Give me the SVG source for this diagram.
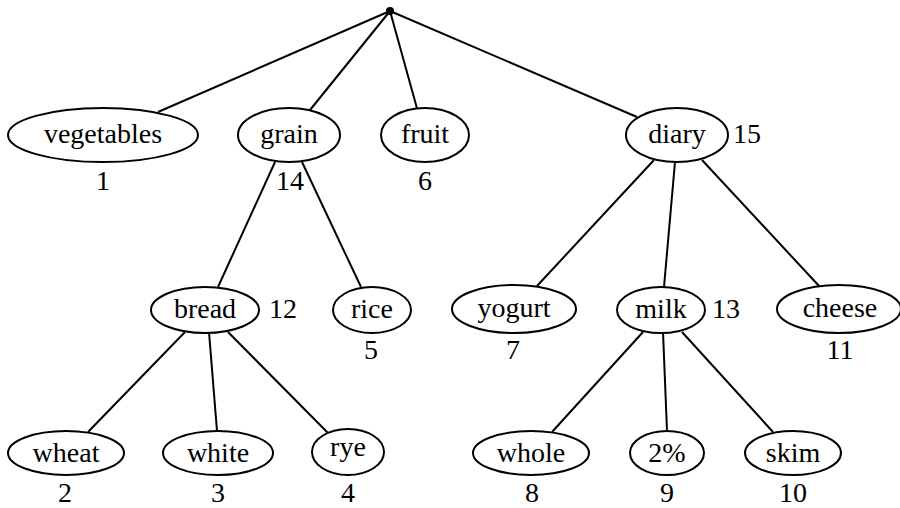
<svg xmlns="http://www.w3.org/2000/svg" width="900" height="508" viewBox="0 0 900 508">
<style>
.n ellipse{fill:#fff;stroke:#000;stroke-width:2}
text{font-family:"Liberation Serif","Times New Roman",serif;font-size:28px;fill:#000;text-anchor:middle}
.s{text-anchor:start}
#edges line{stroke:#000;stroke-width:2}
</style>
<rect width="900" height="508" fill="#fff"/>
<g id="edges">
<line x1="390" y1="11" x2="158" y2="112"/>
<line x1="390" y1="11" x2="310" y2="110"/>
<line x1="390" y1="11" x2="418" y2="112"/>
<line x1="390" y1="11" x2="637" y2="117"/>
<line x1="275" y1="162" x2="218" y2="287"/>
<line x1="302" y1="162" x2="361" y2="287"/>
<line x1="654" y1="160" x2="537" y2="286"/>
<line x1="675" y1="162" x2="664" y2="287"/>
<line x1="702" y1="160" x2="820" y2="287"/>
<line x1="185" y1="332" x2="88" y2="432"/>
<line x1="209" y1="332" x2="217" y2="431"/>
<line x1="228" y1="332" x2="328" y2="433"/>
<line x1="643" y1="332" x2="552" y2="432"/>
<line x1="663" y1="332" x2="667" y2="431"/>
<line x1="682" y1="332" x2="773" y2="432"/>
</g>
<g id="root"><circle cx="390" cy="11" r="4" fill="#000"/></g>
<g id="vegetables" class="n"><ellipse cx="103" cy="135" rx="95" ry="27"/><text x="103" y="143">vegetables</text><text x="103" y="190">1</text></g>
<g id="grain" class="n"><ellipse cx="289" cy="135" rx="51" ry="27"/><text x="289" y="143">grain</text><text x="290" y="190">14</text></g>
<g id="fruit" class="n"><ellipse cx="425" cy="135" rx="44" ry="27"/><text x="425" y="143">fruit</text><text x="425" y="190">6</text></g>
<g id="diary" class="n"><ellipse cx="677" cy="135" rx="51" ry="27"/><text x="677" y="143">diary</text><text class="s" x="733" y="143">15</text></g>
<g id="bread" class="n"><ellipse cx="205" cy="310" rx="54" ry="23"/><text x="205" y="318">bread</text><text class="s" x="269" y="318">12</text></g>
<g id="rice" class="n"><ellipse cx="372" cy="310" rx="39" ry="23"/><text x="372" y="318">rice</text><text x="371" y="359">5</text></g>
<g id="yogurt" class="n"><ellipse cx="514" cy="309" rx="62" ry="24"/><text x="514" y="317">yogurt</text><text x="513" y="359">7</text></g>
<g id="milk" class="n"><ellipse cx="661" cy="310" rx="44" ry="23"/><text x="661" y="318">milk</text><text class="s" x="712" y="318">13</text></g>
<g id="cheese" class="n"><ellipse cx="839" cy="309" rx="62" ry="24"/><text x="840" y="317">cheese</text><text x="840" y="359">11</text></g>
<g id="wheat" class="n"><ellipse cx="66" cy="453" rx="58" ry="22"/><text x="66" y="462">wheat</text><text x="65" y="502">2</text></g>
<g id="white" class="n"><ellipse cx="218" cy="453" rx="55" ry="22"/><text x="218" y="462">white</text><text x="218" y="502">3</text></g>
<g id="rye" class="n"><ellipse cx="348" cy="452" rx="36" ry="23"/><text x="348" y="456">rye</text><text x="348" y="502">4</text></g>
<g id="whole" class="n"><ellipse cx="531" cy="453" rx="58" ry="22"/><text x="531" y="462">whole</text><text x="532" y="502">8</text></g>
<g id="pct2" class="n"><ellipse cx="667" cy="453" rx="37" ry="22"/><text x="667" y="462">2%</text><text x="667" y="502">9</text></g>
<g id="skim" class="n"><ellipse cx="793" cy="453" rx="48" ry="22"/><text x="793" y="462">skim</text><text x="793" y="502">10</text></g>
</svg>
